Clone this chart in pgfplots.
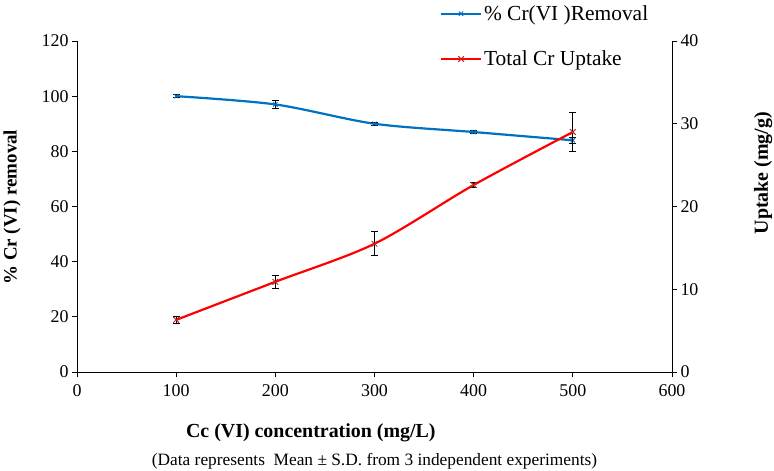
\documentclass[border=0pt]{standalone}
\usepackage{pgfplots}
\pgfplotsset{compat=1.18}
\usepackage{fontspec}
\setmainfont{Liberation Serif}
\definecolor{cblue}{RGB}{0,112,192}
\definecolor{cred}{RGB}{255,0,0}
\definecolor{cmark}{RGB}{190,40,40}
\begin{document}
\begin{tikzpicture}
\pgfplotsset{
  base/.style={scale only axis, width=595bp, height=331bp,
    xmin=0, xmax=600, clip=false,
    tick align=outside, major tick length=5bp,
    tick style={black, line width=0.8pt},
    axis line style={black, line width=0.9pt, -},
    /pgf/number format/assume math mode=true,
    tick label style={font=\fontsize{18}{20}\selectfont},
    error bars/error bar style={black, line width=1pt},
    error bars/error mark options={black, rotate=90, mark size=3.5pt, line width=1pt},
  },
}
\begin{axis}[base, axis x line*=bottom, axis y line*=left,
  xtick={0,100,...,600}, ymin=0, ymax=120, ytick={0,20,...,120},
  xticklabel style={yshift=-4bp},
  xlabel={Cc (VI) concentration (mg/L)},
  xlabel style={font=\fontsize{20}{22}\selectfont\bfseries, at={(axis description cs:0.393,-0.183)}, anchor=center},
  ylabel={\% Cr (VI) removal},
  ylabel style={font=\fontsize{19}{21}\selectfont\bfseries, at={(axis description cs:-0.109,0.498)}, anchor=center},
]
\addplot[cblue, line width=2.2pt, smooth, mark=x, mark size=3pt,
  mark options={line width=1pt, solid},
  error bars/.cd, y dir=both, y explicit]
  coordinates {(100,100) +- (0,0.5) (200,97) +- (0,1.4) (300,90) +- (0,0.6) (400,87) +- (0,0.5) (500,84) +- (0,1.0)};
\node[font=\fontsize{17.4}{19}\selectfont] at (axis description cs:0.5,-0.27)
  {(Data represents\ \ Mean ± S.D. from 3 independent experiments)};
\coordinate (BL) at (rel axis cs:0,0);
\coordinate (TR) at (rel axis cs:1,1);
\end{axis}
\begin{axis}[base, axis x line=none, axis y line*=right,
  ymin=0, ymax=40, ytick={0,10,...,40},
  ylabel={Uptake (mg/g)},
  ylabel style={font=\fontsize{20}{22}\selectfont\bfseries, at={(axis description cs:1.153,0.601)}, anchor=center},
  legend style={at={(axis description cs:0.61,1.12)}, anchor=north west,
    draw=none, fill=none, font=\fontsize{21.5}{24}\selectfont,
    row sep=25bp, inner xsep=0pt},
  legend cell align=left,
  legend image code/.code={\draw[mark repeat=2,mark phase=2] plot coordinates {(0cm,0cm) (0.7cm,0cm) (1.4cm,0cm)};},
]
\addlegendimage{cblue, line width=2.2pt, mark=x, mark size=3pt, mark options={line width=1pt}}
\addlegendentry{\% Cr(VI )Removal}
\addplot[cred, line width=2.2pt, smooth, mark=x, mark size=4pt,
  mark options={cmark, line width=1pt, solid},
  error bars/.cd, y dir=both, y explicit]
  coordinates {(100,6.3) +- (0,0.4) (200,10.9) +- (0,0.8) (300,15.5) +- (0,1.45) (400,22.6) +- (0,0.3) (500,29.0) +- (0,2.3)};
\addlegendentry{Total Cr Uptake}
\end{axis}
\pgfresetboundingbox
\path ([xshift=-77bp,yshift=-98bp]BL) rectangle ([xshift=102bp,yshift=41bp]TR);
\end{tikzpicture}
\end{document}
